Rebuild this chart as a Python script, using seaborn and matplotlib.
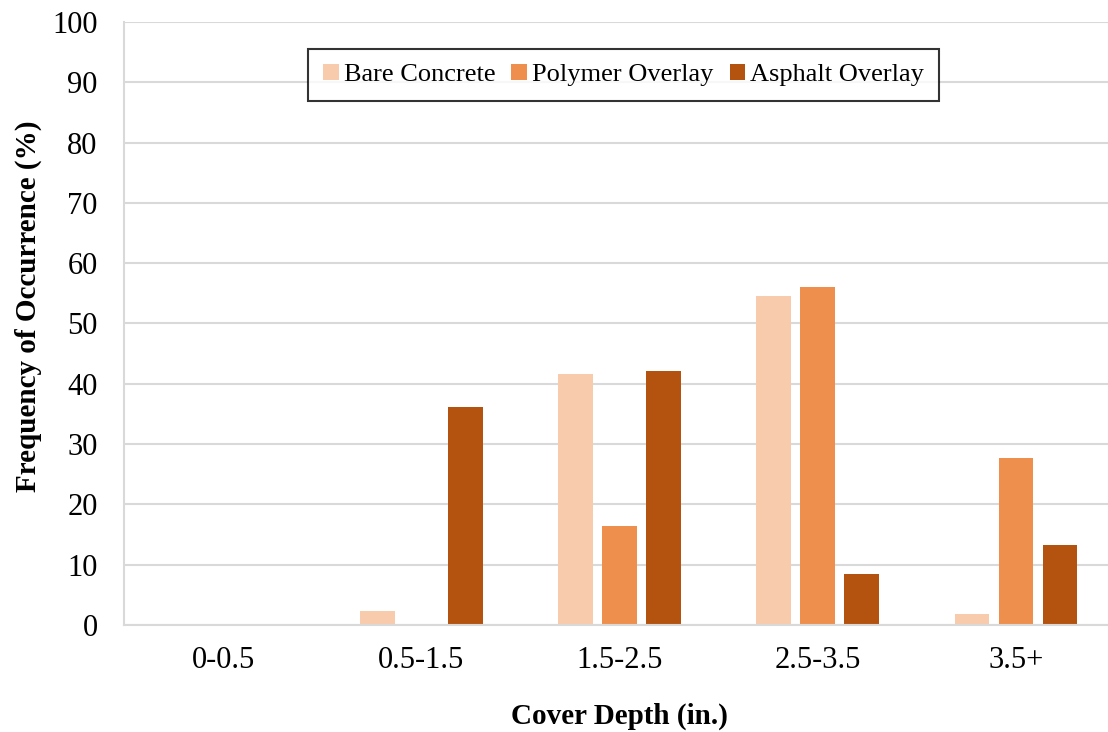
import pandas as pd
import matplotlib.pyplot as plt
import seaborn as sns

# ── Data ──────────────────────────────────────
depths   = ["0-0.5", "0.5-1.5", "1.5-2.5", "2.5-3.5", "3.5+"]
bare     = [0.0, 2.3, 41.6, 54.6, 1.8]
polymer  = [0.0, 0.0, 16.4, 56.1, 27.7]
asphalt  = [0.0, 36.2, 42.1, 8.5, 13.3]
surfaces = ["Bare Concrete", "Polymer Overlay", "Asphalt Overlay"]
colors   = ["#F8CBAD", "#EF8F4E", "#B45310"]

df = pd.DataFrame({"depth": depths, surfaces[0]: bare,
                   surfaces[1]: polymer, surfaces[2]: asphalt})
long = df.melt(id_vars="depth", var_name="surface", value_name="freq")

# ── Plot ──────────────────────────────────────
sns.set_style("white")
plt.rcParams["font.family"] = ["Liberation Serif", "DejaVu Serif"]
for key in ["text.color", "axes.labelcolor", "xtick.color", "ytick.color"]:
    plt.rcParams[key] = "black"

fig, ax = plt.subplots(figsize=(11.08, 7.32), dpi=100)
sns.barplot(data=long, x="depth", y="freq", hue="surface",
            hue_order=surfaces, palette=colors, width=0.666, gap=0.21,
            edgecolor="none", saturation=1, ax=ax)

ax.set_ylim(0, 100)
ax.set_yticks(range(0, 101, 10))
ax.set_xlim(-0.5, 4.5)
ax.yaxis.grid(True, color="#D9D9D9", linewidth=1.5)
ax.set_axisbelow(True)
for s in ["top", "right"]:
    ax.spines[s].set_visible(False)
for s in ["bottom", "left"]:
    ax.spines[s].set_color("#D9D9D9")
    ax.spines[s].set_linewidth(1.5)
ax.tick_params(axis="both", length=0, labelsize=22)
ax.tick_params(axis="x", pad=15)
ax.tick_params(axis="y", pad=19)

ax.set_xlabel("Cover Depth (in.)", fontsize=21, fontweight="bold", labelpad=20)
ax.set_ylabel("Frequency of Occurrence (%)", fontsize=21, fontweight="bold")
ax.yaxis.set_label_coords(-0.083, 0.529)

leg = ax.legend(loc="upper center", bbox_to_anchor=(0.504, 0.955), ncol=3,
                fontsize=19, frameon=True, fancybox=False, handlelength=0.6,
                handleheight=0.6, handletextpad=0.19, columnspacing=0.61,
                borderpad=0.55, borderaxespad=0)
leg.get_frame().set_edgecolor("black")
leg.get_frame().set_linewidth(1.5)

plt.subplots_adjust(left=0.112, right=1.0063, top=0.970, bottom=0.1462)
plt.savefig("out.png", dpi=100)
